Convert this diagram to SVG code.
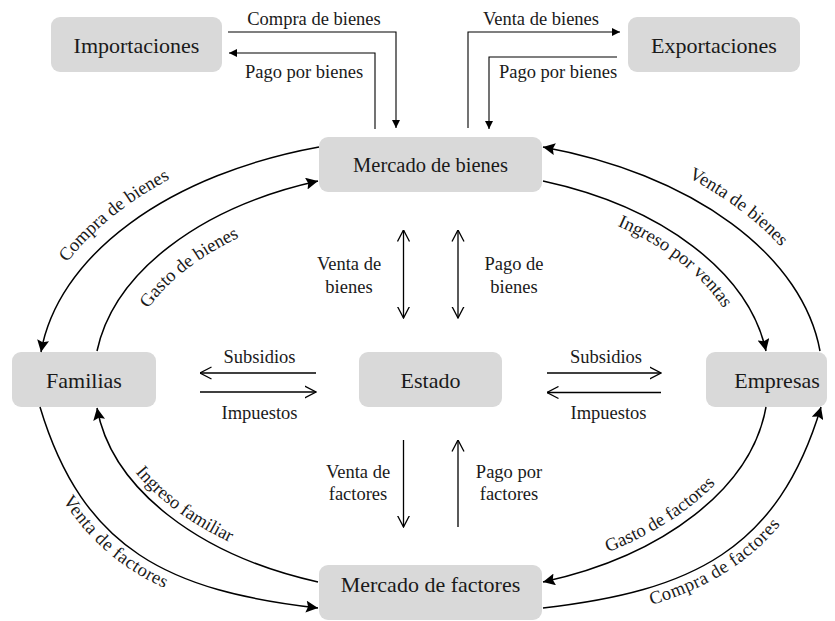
<svg xmlns="http://www.w3.org/2000/svg" width="835" height="621" viewBox="0 0 835 621" font-family="'Liberation Serif', 'DejaVu Serif', serif">
<style>
.box{fill:#d9d9d9;stroke:none}
.nl{font-family:'Liberation Serif','DejaVu Serif',serif;font-size:22px;fill:#1a1a1a;text-anchor:middle}
.lb{font-family:'Liberation Serif','DejaVu Serif',serif;font-size:18.5px;fill:#1a1a1a;text-anchor:middle}
.thin{fill:none;stroke:#000;stroke-width:1.1}
.mid{fill:none;stroke:#000;stroke-width:1.3}
.curve{fill:none;stroke:#000;stroke-width:1.5}
</style>
<defs>
<marker id="sm" viewBox="0 0 10 10" refX="10" refY="5" markerWidth="9" markerHeight="8" markerUnits="userSpaceOnUse" orient="auto"><path d="M0,0 L10,5 L0,10 z" fill="#000"/></marker>
<marker id="big" viewBox="0 0 12 12" refX="12" refY="6" markerWidth="13" markerHeight="12" markerUnits="userSpaceOnUse" orient="auto"><path d="M0,0 L12,6 L0,12 L2,6 z" fill="#000"/></marker>
<marker id="open" viewBox="0 0 12 14" refX="11.5" refY="7" markerWidth="12" markerHeight="14" markerUnits="userSpaceOnUse" orient="auto-start-reverse"><path d="M0,1 L11.5,7 L0,13" fill="none" stroke="#000" stroke-width="1.3"/></marker>
<path id="t1" d="M28,352 A405,255 0 0 1 323,128"/>
<path id="t2" d="M127.5,353 A306,180 0 0 1 330.9,207.8"/>
<path id="t3" d="M538,128 A405,255 0 0 1 833,352"/>
<path id="t4" d="M531,199 A313,187 0 0 1 742,351"/>
<path id="t5" d="M40,407 C83,550 169,591 318,608"/>
<path id="t6" d="M101.7,406.7 A332,206 0 0 0 322.4,572.8"/>
<path id="t7" d="M538.6,572.8 A332,206 0 0 0 759.3,406.7"/>
<path id="t8" d="M543,608 C692,591 778,550 821,407"/>
</defs>

<g id="importaciones"><rect class="box" x="51" y="17" width="171" height="55" rx="9"/><text class="nl" x="136.5" y="53">Importaciones</text></g>
<g id="exportaciones"><rect class="box" x="628" y="17" width="172" height="55" rx="9"/><text class="nl" x="714" y="53">Exportaciones</text></g>
<g id="mercado-bienes"><rect class="box" x="319" y="137" width="223" height="55" rx="9"/><text class="nl" x="430.5" y="172" style="font-size:20.5px">Mercado de bienes</text></g>
<g id="familias"><rect class="box" x="12" y="352" width="144" height="55" rx="9"/><text class="nl" x="84" y="388">Familias</text></g>
<g id="estado"><rect class="box" x="359" y="352" width="143" height="55" rx="9"/><text class="nl" x="430.5" y="388">Estado</text></g>
<g id="empresas"><rect class="box" x="706" y="352" width="121" height="55" rx="9"/><text class="nl" x="777" y="388">Empresas</text></g>
<g id="mercado-factores"><rect class="box" x="319" y="565" width="223" height="55" rx="9"/><text class="nl" x="430.5" y="592">Mercado de factores</text></g>

<g id="connectors">
<path class="thin" d="M228,32 H396 V128" marker-end="url(#sm)"/>
<path class="thin" d="M375,129 V53 H229" marker-end="url(#sm)"/>
<path class="thin" d="M468,128 V32 H620" marker-end="url(#sm)"/>
<path class="thin" d="M617,57 H489 V129" marker-end="url(#sm)"/>

<path class="curve" d="M319,147 A391,241 0 0 0 41,352" marker-end="url(#big)"/>
<path class="curve" d="M97,351 A336,210 0 0 1 318,181" marker-end="url(#big)"/>
<path class="curve" d="M820,351 A391,241 0 0 0 543,147" marker-end="url(#big)"/>
<path class="curve" d="M543,181 A336,210 0 0 1 766,351" marker-end="url(#big)"/>
<path class="curve" d="M40,407 C83,550 169,591 318,608" marker-end="url(#big)"/>
<path class="curve" d="M318,582 A336,210 0 0 1 97,408" marker-end="url(#big)"/>
<path class="curve" d="M766,407 A336,210 0 0 1 543,582" marker-end="url(#big)"/>
<path class="curve" d="M543,608 C692,591 778,550 821,407" marker-end="url(#big)"/>

<path class="mid" d="M403.5,230 V318" marker-start="url(#open)" marker-end="url(#open)"/>
<path class="mid" d="M458,230 V318" marker-start="url(#open)" marker-end="url(#open)"/>
<path class="mid" d="M316,373 H200" marker-end="url(#open)"/>
<path class="mid" d="M200,392 H316" marker-end="url(#open)"/>
<path class="mid" d="M547,373 H661" marker-end="url(#open)"/>
<path class="mid" d="M661,392.5 H547" marker-end="url(#open)"/>
<path class="mid" d="M403.5,440 V527" marker-end="url(#open)"/>
<path class="mid" d="M458,527 V440" marker-end="url(#open)"/>
</g>

<g id="labels">
<text class="lb" x="314" y="25">Compra de bienes</text>
<text class="lb" x="304" y="78">Pago por bienes</text>
<text class="lb" x="541" y="25">Venta de bienes</text>
<text class="lb" x="558" y="78">Pago por bienes</text>
<text class="lb" x="349" y="270">Venta de</text>
<text class="lb" x="349" y="293">bienes</text>
<text class="lb" x="514" y="270">Pago de</text>
<text class="lb" x="514" y="293">bienes</text>
<text class="lb" x="259.5" y="363">Subsidios</text>
<text class="lb" x="259.5" y="419">Impuestos</text>
<text class="lb" x="606" y="363">Subsidios</text>
<text class="lb" x="608.5" y="419">Impuestos</text>
<text class="lb" x="358" y="478">Venta de</text>
<text class="lb" x="358" y="500">factores</text>
<text class="lb" x="509" y="478">Pago por</text>
<text class="lb" x="509" y="500">factores</text>
<text class="lb"><textPath href="#t1" startOffset="42%">Compra de bienes</textPath></text>
<text class="lb"><textPath href="#t2" startOffset="41%">Gasto de bienes</textPath></text>
<text class="lb"><textPath href="#t3" startOffset="55%">Venta de bienes</textPath></text>
<text class="lb"><textPath href="#t4" startOffset="58%">Ingreso por ventas</textPath></text>
<text class="lb"><textPath href="#t5" startOffset="42%"><tspan dy="17">Venta de factores</tspan></textPath></text>
<text class="lb"><textPath href="#t6" startOffset="46%">Ingreso familiar</textPath></text>
<text class="lb"><textPath href="#t7" startOffset="47%">Gasto de factores</textPath></text>
<text class="lb"><textPath href="#t8" startOffset="48%"><tspan dy="17">Compra de factores</tspan></textPath></text>
</g>
</svg>
